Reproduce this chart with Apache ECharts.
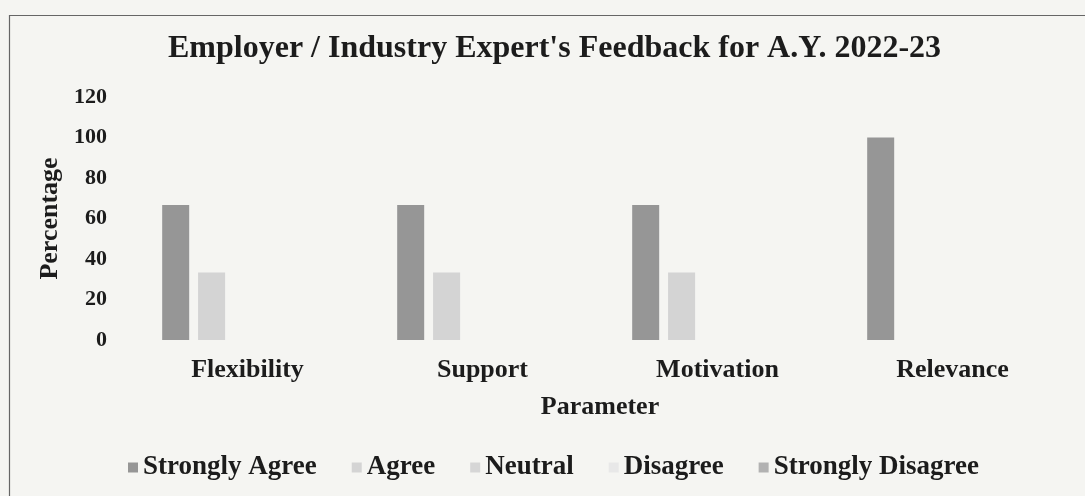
<!DOCTYPE html>
<html>
<head>
<meta charset="utf-8">
<script src="https://cdn.jsdelivr.net/npm/echarts@6/dist/echarts.min.js"></script>
<style>
html,body{margin:0;padding:0;background:#f5f5f2;}
#c{width:1085px;height:496px;}
</style>
</head>
<body>
<div id="c"></div>
<script>
const categories = ['Flexibility', 'Support', 'Motivation', 'Relevance'];
const seriesNames = ['Strongly Agree', 'Agree', 'Neutral', 'Disagree', 'Strongly Disagree'];
const stronglyAgree = [66.67, 66.67, 66.67, 100];
const agree = [33.33, 33.33, 33.33, 0];
const neutral = [0, 0, 0, 0];
const disagree = [0, 0, 0, 0];
const stronglyDisagree = [0, 0, 0, 0];
const yTicks = { min: 0, max: 120, interval: 20 };

const seriesData = [stronglyAgree, agree, neutral, disagree, stronglyDisagree];
const colors = ['#969696', '#d4d4d4', '#d6d6d6', '#e8e8e8', '#b2b2b2'];
const font = '"Liberation Serif", "Times New Roman", serif';
const ink = '#1c1c1c';

const chart = echarts.init(document.getElementById('c'), null, { renderer: 'canvas' });
chart.setOption({
  backgroundColor: '#f5f5f2',
  animation: false,
  color: colors,
  graphic: [{
    type: 'rect', silent: true,
    shape: { x: 9.5, y: 15.5, width: 1100, height: 520 },
    style: { fill: 'none', stroke: '#666', lineWidth: 1.2 }
  }],
  title: {
    text: "Employer / Industry Expert's Feedback for A.Y. 2022-23",
    left: 163, top: 28,
    textStyle: { fontFamily: font, fontWeight: 'bold', fontSize: 32, color: ink }
  },
  legend: {
    data: seriesNames,
    left: 123, top: 449,
    itemWidth: 10, itemHeight: 10, itemGap: 35,
    icon: 'rect',
    textStyle: { fontFamily: font, fontWeight: 'bold', fontSize: 27, color: ink }
  },
  grid: { left: 130, right: 15, top: 97, bottom: 156 },
  xAxis: {
    type: 'category', data: categories,
    axisLine: { show: false }, axisTick: { show: false },
    axisLabel: { fontFamily: font, fontWeight: 'bold', fontSize: 26, color: ink, margin: 17 },
    name: 'Parameter', nameLocation: 'middle', nameGap: 54,
    nameTextStyle: { fontFamily: font, fontWeight: 'bold', fontSize: 26, color: ink }
  },
  yAxis: {
    type: 'value', min: yTicks.min, max: yTicks.max, interval: yTicks.interval,
    axisLine: { show: false }, axisTick: { show: false }, splitLine: { show: false },
    axisLabel: { fontFamily: font, fontWeight: 'bold', fontSize: 22, color: ink, margin: 23 },
    name: 'Percentage', nameLocation: 'middle', nameGap: 66,
    nameTextStyle: { fontFamily: font, fontWeight: 'bold', fontSize: 26, color: ink }
  },
  series: seriesNames.map((n, i) => ({
    name: n, type: 'bar', data: seriesData[i],
    barWidth: 27, barGap: '33%', barCategoryGap: '27%',
    itemStyle: { color: colors[i], borderWidth: 0 }
  }))
});
</script>
</body>
</html>
